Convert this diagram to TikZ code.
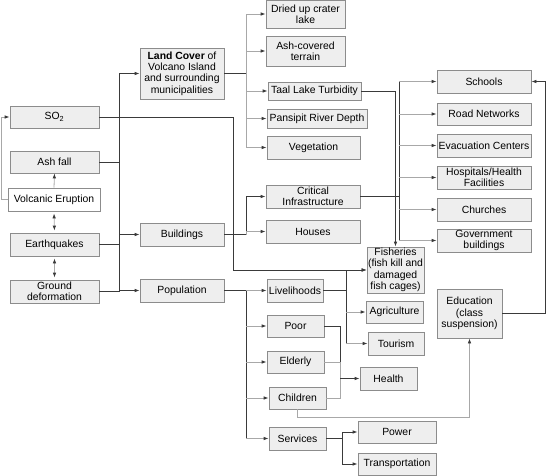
\documentclass[tikz,border=0pt]{standalone}
\usepackage{fontspec}
\setmainfont{Liberation Sans}
\usepackage{tikz}
\usetikzlibrary{arrows.meta,calc}
\definecolor{boxfill}{HTML}{EEEEEE}
\definecolor{boxline}{HTML}{8C8C8C}
\definecolor{darkline}{HTML}{3A3A3A}
\definecolor{lightline}{HTML}{A8A8A8}

\begin{document}
\begin{tikzpicture}[x=1pt, y=-1pt, >={Latex[length=5pt,width=3.6pt,color=darkline]},
    every node/.style={font=\fontsize{10.4}{11.4}\selectfont, align=center, inner sep=1pt},
    box/.style={draw=boxline, fill=boxfill, line width=0.8pt},
    boxsize/.style 2 args={minimum width=#1pt, minimum height=#2pt},
    link/.style={draw=darkline, line width=0.8pt},
    faint/.style={draw=lightline, line width=0.8pt}]
    \useasboundingbox (0,0) rectangle (546,475);

    % hazards
    \node[box, boxsize={89}{22}] (so2) at (54.5,117) {SO\textsubscript{2}};
    \node[box, boxsize={89}{22}] (ash) at (54.5,162) {Ash fall};
    \node[box, fill=white, boxsize={92}{23}] (erupt) at (54,199.5) {Volcanic Eruption};
    \node[box, boxsize={89}{23}] (quake) at (54.5,244.5) {Earthquakes};
    \node[box, boxsize={89}{23}] (ground) at (54.5,291.5) {Ground\\deformation};

    % exposed elements
    \node[box, boxsize={84}{51}] (land) at (182,73.5) {\textbf{Land Cover} of\\Volcano Island\\and surrounding\\municipalities};
    \node[box, boxsize={84}{23}] (build) at (182,234.5) {Buildings};
    \node[box, boxsize={84}{23}] (pop) at (182,290.5) {Population};

    % land cover
    \node[box, boxsize={79}{28}] (crater) at (305.5,14) {Dried up crater\\lake};
    \node[box, boxsize={79}{30}] (ashterr) at (305.5,51) {Ash-covered\\terrain};
    \node[box, boxsize={93}{18}] (taal) at (314.5,91) {Taal Lake Turbidity};
    \node[box, boxsize={100}{19}] (pansipit) at (317,118.5) {Pansipit River Depth};
    \node[box, boxsize={93}{23}] (veg) at (313.5,147.5) {Vegetation};

    % buildings
    \node[box, boxsize={94}{23}] (crit) at (313,196.5) {Critical\\Infrastructure};
    \node[box, boxsize={94}{23}] (houses) at (313,231.5) {Houses};
    \node[box, boxsize={57}{46}] (fish) at (395.5,270) {Fisheries\\(fish kill and\\damaged\\fish cages)};

    % critical infrastructure
    \node[box, boxsize={94}{23}] (schools) at (484,81.5) {Schools};
    \node[box, boxsize={94}{22}] (road) at (484,114) {Road Networks};
    \node[box, boxsize={94}{23}] (evac) at (484,145.5) {Evacuation Centers};
    \node[box, boxsize={94}{23}] (hosp) at (484,177.5) {Hospitals/Health\\Facilities};
    \node[box, boxsize={94}{23}] (church) at (484,209.5) {Churches};
    \node[box, boxsize={94}{23}] (gov) at (484,240.5) {Government\\buildings};
    \node[box, boxsize={65}{49}] (edu) at (469.5,313.5) {Education\\(class\\suspension)};

    % population
    \node[box, boxsize={56}{23}] (liveli) at (295,290.5) {Livelihoods};
    \node[box, boxsize={57}{22}] (poor) at (295.5,326) {Poor};
    \node[box, boxsize={57}{22}] (elderly) at (295.5,362) {Elderly};
    \node[box, boxsize={57}{22}] (children) at (297.5,398) {Children};
    \node[box, boxsize={57}{23}] (services) at (297.5,438.5) {Services};
    \node[box, boxsize={57}{22}] (agri) at (394.5,312) {Agriculture};
    \node[box, boxsize={56}{23}] (tourism) at (396,343.5) {Tourism};
    \node[box, boxsize={57}{23}] (health) at (388.5,378.5) {Health};
    \node[box, boxsize={78}{22}] (power) at (397,432) {Power};
    \node[box, boxsize={78}{22}] (transport) at (397,464) {Transportation};

    % junction columns
    \coordinate (bus) at (119,0);
    \coordinate (so2turn) at (233,0);
    \coordinate (fork) at (246,0);
    \coordinate (livfork) at (346,0);
    \coordinate (hfork) at (340,0);
    \coordinate (sfork) at (342,0);
    \coordinate (infrabus) at (399,0);

    % hazards to bus
    \draw[faint,->] (erupt.north) -- (ash.south);
    \draw[faint,<->, shorten <=2pt, shorten >=2pt] (erupt.south) -- (quake.north);
    \draw[faint,<->, shorten <=2pt, shorten >=2pt] (quake.south) -- (ground.north);
    \draw[faint,->] (erupt.west) -- ++(-6,0) |- (so2.west);
    \draw[link] (ash.east) -- (ash.east -| bus);
    \draw[link] (quake.east) -- (quake.east -| bus);
    \draw[link] (ground.east) -- (ground.east -| bus);
    \draw[link] (land.west -| bus) -- (ground.east -| bus);
    \foreach \n in {land, build, pop}
        \draw[link,->] (\n.west -| bus) -- (\n.west);
    \draw[link,->] (so2.east) -- (so2.east -| so2turn) -- (so2turn |- fish.west) -- (fish.west);

    % land cover
    \draw[link] (land.east) -- (land.east -| fork);
    \draw[faint] (fork |- crater.west) -- (fork |- veg.west);
    \foreach \n in {crater, ashterr, taal, pansipit, veg}
        \draw[faint,->] (fork |- \n.west) -- (\n.west);
    \draw[link,->] (taal.east) -| (fish.north);

    % buildings
    \draw[link] (build.east) -- (build.east -| fork) -- (fork |- crit.west);
    \draw[faint] (build.east -| fork) -- (fork |- houses.west);
    \draw[link,->] (fork |- crit.west) -- (crit.west);
    \draw[faint,->] (fork |- houses.west) -- (houses.west);
    \draw[link] (crit.east) -- (crit.east -| infrabus);
    \draw[link] (infrabus |- schools.west) -- (infrabus |- gov.west);
    \foreach \n in {schools, road, evac, hosp, church, gov}
        \draw[faint,->] (infrabus |- \n.west) -- (\n.west);
    \draw[link,->] (edu.east) -- ++(43,0) |- (schools.east);

    % population
    \draw[link] (pop.east) -- (pop.east -| fork) -- (fork |- services.west);
    \foreach \n in {liveli, poor, elderly, children, services}
        \draw[faint,->] (fork |- \n.west) -- (\n.west);
    \draw[link] (liveli.east) -- (liveli.east -| livfork);
    \draw[link] (livfork |- fish.west) -- (livfork |- tourism.west);
    \draw[link,->] (livfork |- fish.west) -- (fish.west);
    \foreach \n in {agri, tourism}
        \draw[faint,->] (livfork |- \n.west) -- (\n.west);
    \draw[link] (poor.east) -| (hfork |- health.west);
    \draw[faint] (elderly.east) -| (hfork |- health.west);
    \draw[faint] (children.east) -| (hfork |- health.west);
    \draw[link,->] (hfork |- health.west) -- (health.west);
    \draw[faint,->] (children.south) -- ++(0,8) -| (edu.south);
    \draw[link] (services.east) -- (services.east -| sfork);
    \draw[link] (sfork |- power.west) -- (sfork |- transport.west);
    \foreach \n in {power, transport}
        \draw[link,->] (sfork |- \n.west) -- (\n.west);
\end{tikzpicture}
\end{document}
